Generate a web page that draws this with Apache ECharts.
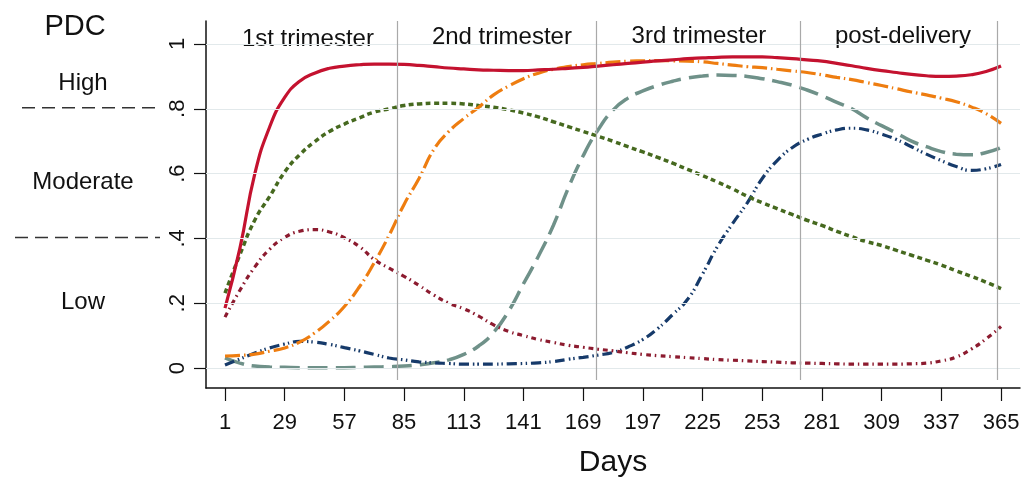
<!DOCTYPE html>
<html>
<head>
<meta charset="utf-8">
<script src="https://cdn.jsdelivr.net/npm/echarts@6/dist/echarts.min.js"></script>
<style>
html,body{margin:0;padding:0;background:#fff;}
#chart{width:1034px;height:481px;}
</style>
</head>
<body>
<div id="chart"></div>
<script>
// ---- data ----
const days = [1,8,15,22,29,36,43,50,57,64,71,78,85,92,99,106,113,120,127,134,141,148,155,162,169,176,183,190,197,204,211,218,225,232,239,246,253,260,267,274,281,288,295,302,309,316,323,330,337,344,351,358,365];
const xTicks = [1,29,57,85,113,141,169,197,225,253,281,309,337,365];
const yTicks = [0,0.2,0.4,0.6,0.8,1];
const periodBounds = [81.7,175.3,271,363];
const periodNames = ['1st trimester','2nd trimester','3rd trimester','post-delivery'];
const levelCuts = [0.8,0.4];
const levelNames = ['High','Moderate','Low'];

const redSolid = [.185,.37,.60,.745,.835,.885,.91,.925,.932,.936,.938,.938,.937,.934,.93,.926,.923,.92,.919,.918,.918,.92,.922,.925,.928,.932,.936,.94,.944,.948,.951,.955,.957,.959,.96,.96,.96,.958,.955,.951,.947,.94,.933,.925,.918,.912,.906,.902,.90,.901,.905,.915,.932];
const greenDotted = [.231,.35,.457,.53,.605,.658,.698,.73,.753,.772,.79,.80,.81,.815,.817,.817,.815,.81,.805,.797,.787,.775,.76,.745,.73,.715,.70,.683,.667,.65,.632,.613,.594,.574,.553,.53,.51,.492,.474,.456,.44,.422,.405,.39,.378,.363,.348,.333,.318,.30,.283,.265,.245];
const orangeDashDot = [.037,.039,.043,.052,.062,.08,.108,.145,.19,.25,.325,.41,.505,.585,.675,.73,.77,.805,.843,.87,.893,.91,.922,.93,.936,.94,.944,.947,.948,.949,.948,.947,.945,.94,.935,.93,.927,.922,.917,.912,.905,.897,.89,.881,.872,.862,.852,.843,.833,.822,.806,.785,.755];
const tealDash = [.031,.015,.006,.003,.002,.001,.001,.001,.001,.002,.003,.004,.006,.01,.016,.025,.042,.068,.11,.175,.26,.345,.44,.555,.655,.735,.796,.833,.855,.872,.885,.895,.901,.904,.903,.90,.893,.884,.873,.858,.84,.82,.80,.772,.748,.725,.70,.683,.668,.66,.658,.665,.68];
const navyDashDotDot = [.009,.028,.046,.062,.074,.082,.08,.073,.063,.053,.042,.031,.025,.019,.016,.014,.012,.012,.012,.013,.014,.016,.02,.027,.033,.04,.048,.065,.088,.122,.165,.212,.29,.375,.445,.51,.585,.64,.68,.705,.722,.735,.74,.735,.722,.705,.683,.66,.64,.622,.61,.615,.628];
const maroonDashDot = [.157,.24,.312,.367,.403,.422,.427,.42,.402,.375,.335,.308,.283,.255,.225,.20,.183,.16,.133,.113,.10,.088,.079,.07,.064,.058,.053,.047,.042,.038,.035,.032,.029,.026,.024,.022,.02,.018,.016,.015,.014,.013,.012,.012,.012,.012,.013,.015,.022,.034,.058,.09,.128];

const FONT = '"Liberation Sans", Arial, Helvetica, sans-serif';
const pair = arr => days.map((d,i)=>[d,arr[i]]);

function curve(name, arr, color, type, width){
  return {
    name, type:'line', data: pair(arr), smooth: 0.5, symbol:'none', showSymbol:false,
    lineStyle:{color, width, type, cap:'butt'}, z:3, silent:true
  };
}

const chart = echarts.init(document.getElementById('chart'), null, {renderer:'canvas'});
const option = {
  animation:false,
  backgroundColor:'#ffffff',
  grid:{left:206, right:14, top:21, bottom:93, containLabel:false, outerBoundsMode:'none'},
  xAxis:{
    type:'value', min:-7.91, max:373.9,
    name:'Days', nameLocation:'middle', nameGap:60,
    nameTextStyle:{fontFamily:FONT, fontSize:30, color:'#111'},
    axisLine:{show:true, onZero:false, lineStyle:{color:'#111', width:1.5}},
    axisTick:{show:true, length:13, inside:false, customValues:xTicks, lineStyle:{color:'#111', width:1.2}},
    axisLabel:{show:true, customValues:xTicks, fontFamily:FONT, fontSize:22, color:'#111', margin:24},
    splitLine:{show:false}
  },
  yAxis:{
    type:'value', min:-0.0617, max:1.071,
    axisLine:{show:true, onZero:false, lineStyle:{color:'#111', width:1.5}},
    axisTick:{show:true, length:12, inside:false, customValues:yTicks, lineStyle:{color:'#111', width:1.2}},
    axisLabel:{show:true, customValues:yTicks, rotate:90, fontFamily:FONT, fontSize:22, color:'#111', margin:17,
      formatter:v=> (v===0||v===1)? String(v) : String(Math.round(v*10)/10).replace(/^0/,'')},
    splitLine:{show:false}
  },
  series:[
    {
      type:'line', data:[], z:1, silent:true,
      markLine:{
        silent:true, symbol:'none', animation:false,
        label:{show:false},
        data: yTicks.map(v=>({yAxis:v, lineStyle:{color:'#e2e9eb', width:1.2, type:'solid'}}))
          .concat(periodBounds.map(b=>[
            {coord:[b,-0.037], lineStyle:{color:'#a9a9a9', width:1.2, type:'solid'}},
            {coord:[b,1.071]}
          ]))
      }
    },
    curve('tealDash', tealDash, '#6f9189', [20,8], 3.5),
    curve('navyDashDotDot', navyDashDotDot, '#163a6a', [10,4,1.5,3,1.5,4], 3.2),
    curve('maroonDashDot', maroonDashDot, '#8c1b2f', [5,4,1.5,4], 3.2),
    curve('greenDotted', greenDotted, '#46691f', [5,3.5], 3.5),
    curve('orangeDashDot', orangeDashDot, '#ee7d10', [15,4,1.5,4], 3.2),
    curve('redSolid', redSolid, '#c4122f', 'solid', 3.2)
  ]
};
chart.setOption(option);

// annotations placed from the axis scales
const yPix = v => chart.convertToPixel({yAxisIndex:0}, v);
const xPix = v => chart.convertToPixel({xAxisIndex:0}, v);
const labelCenters = [39.9,130.9,223.3,319];
const labelY = [1.015, 1.022, 1.025, 1.025];
const g = [];
periodNames.forEach((t,i)=>{
  g.push({type:'text', x:xPix(labelCenters[i]), y:yPix(labelY[i]), silent:true,
    style:{text:t, fill:'#111', font:'24px '+FONT, textAlign:'center', textVerticalAlign:'middle'}});
});
levelCuts.forEach((c,i)=>{
  const y = yPix(c) - 1;
  g.push({type:'line', silent:true, shape:{x1: i===0?22:15, y1:y, x2:160, y2:y},
    style:{stroke:'#333', lineWidth:1.5, lineDash:[13,7]}});
});
g.push({type:'text', x:75, y:27, silent:true, style:{text:'PDC', fill:'#111', font:'29px '+FONT, textAlign:'center', textVerticalAlign:'middle'}});
const levelY = [83, 182, 302];
levelNames.forEach((t,i)=>{
  g.push({type:'text', x:83, y:levelY[i], silent:true, style:{text:t, fill:'#111', font:'24px '+FONT, textAlign:'center', textVerticalAlign:'middle'}});
});
chart.setOption({graphic:g});
</script>
</body>
</html>
